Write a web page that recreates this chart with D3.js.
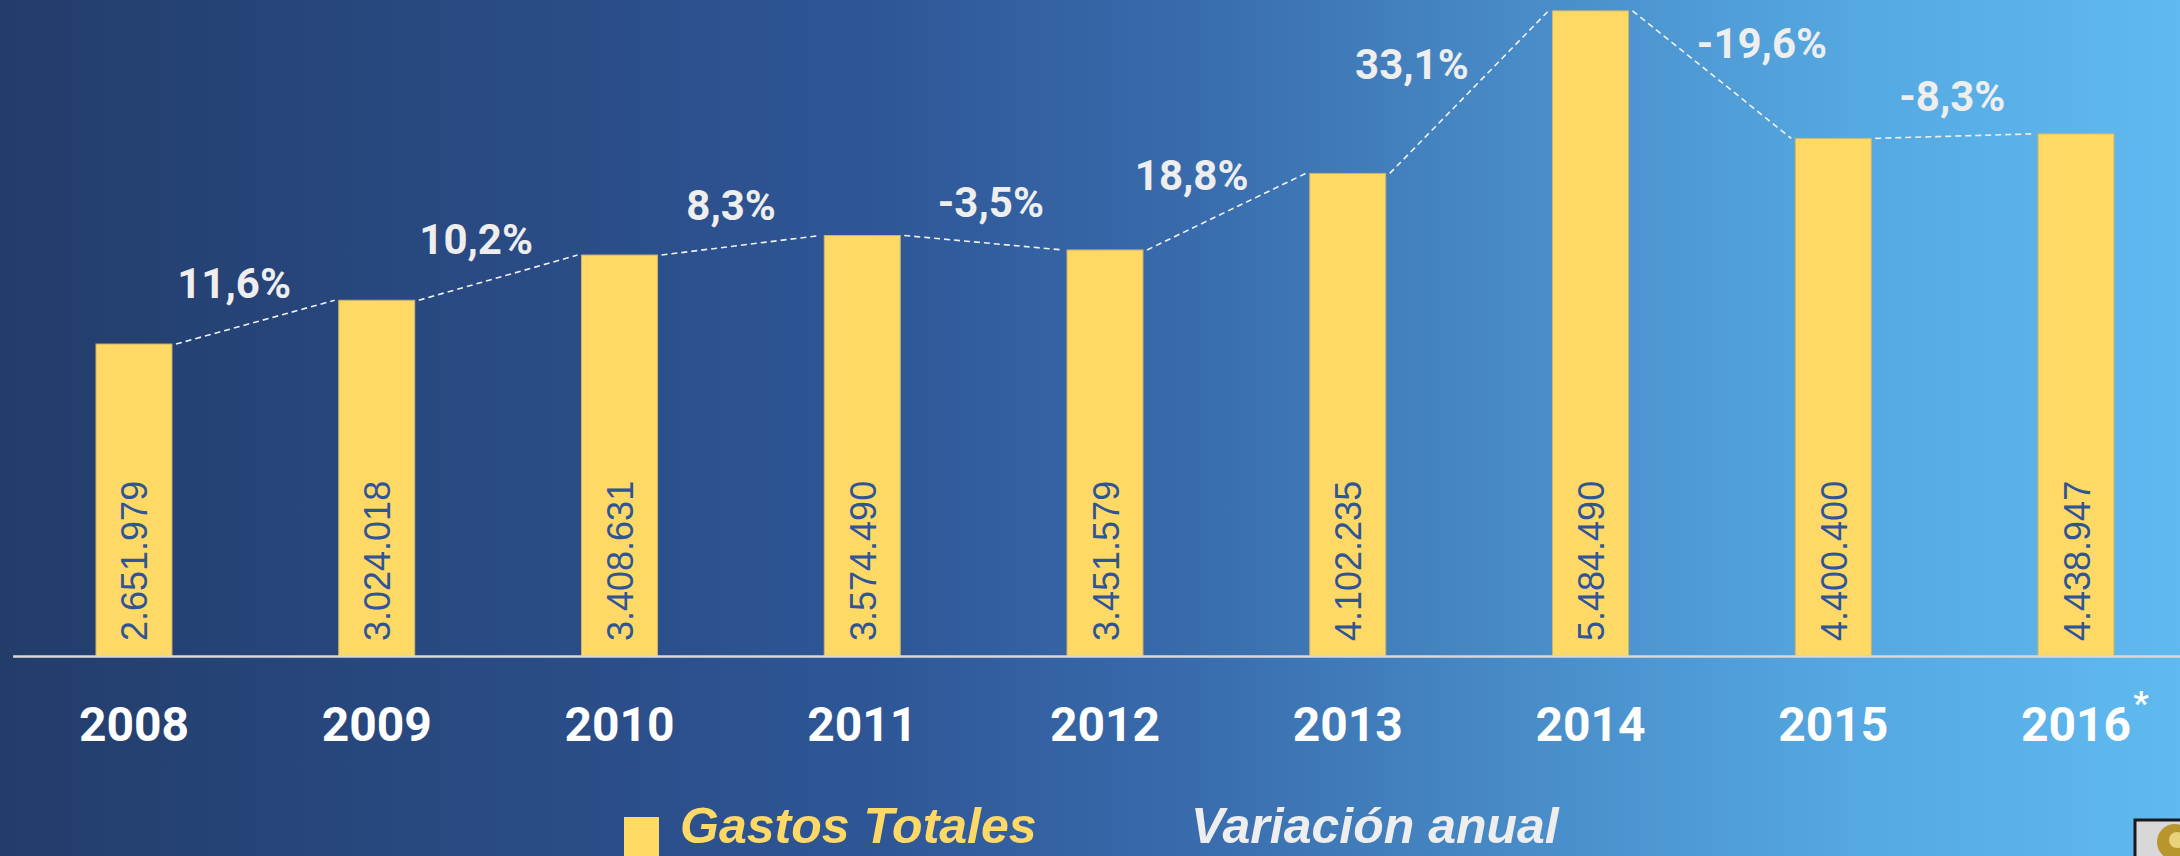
<!DOCTYPE html>
<html>
<head>
<meta charset="utf-8">
<script src="https://cdn.jsdelivr.net/npm/d3@7"></script>
<style>
  html, body { margin: 0; padding: 0; overflow: hidden; }
  svg { display: block; }
</style>
</head>
<body>
<svg id="chart" width="2180" height="856"></svg>
<script>
// Data
const years = ["2008", "2009", "2010", "2011", "2012", "2013", "2014", "2015", "2016"];
const gastosTotales = [2651979, 3024018, 3408631, 3574490, 3451579, 4102235, 5484490, 4400400, 4438947];
const variacionAnual = [11.6, 10.2, 8.3, -3.5, 18.8, 33.1, -19.6, -8.3]; // from 2009 on
const legendLabels = ["Gastos Totales", "Variación anual"];

const width = 2180, height = 856;
const svg = d3.select("#chart");

// Spanish style number formats, plain hyphen as minus
const es = d3.formatLocale({ decimal: ",", thousands: ".", grouping: [3], currency: ["", " €"], minus: "-" });
const fmtValue = es.format(",d");
const fmtPct = es.format(".1f");

// Background gradient
const defs = svg.append("defs");
const grad = defs.append("linearGradient").attr("id", "bg").attr("x1", 0).attr("x2", 1).attr("y1", 0).attr("y2", 0);
[["0%", "#233d6b"], ["22%", "#294a83"], ["40%", "#2e5696"], ["55%", "#396cad"], ["70%", "#488cc8"], ["85%", "#55a8e1"], ["100%", "#5fbaf0"]]
  .forEach(s => grad.append("stop").attr("offset", s[0]).attr("stop-color", s[1]));
svg.append("rect").attr("width", width).attr("height", height).attr("fill", "url(#bg)");

// Scales
const x = d3.scaleBand()
  .domain(years)
  .range([12.6, 2197.4])
  .paddingInner(0.687)
  .paddingOuter(0.3435);

const y = d3.scaleLinear()
  .domain([0, 5500000])
  .range([656, 9]);

// Bars
svg.append("g")
  .selectAll("rect")
  .data(years)
  .join("rect")
  .attr("x", d => x(d))
  .attr("y", (d, i) => y(gastosTotales[i]))
  .attr("width", x.bandwidth())
  .attr("height", (d, i) => y(0) - y(gastosTotales[i]))
  .attr("fill", "#ffd966")
  .attr("stroke", "#cdb36e")
  .attr("stroke-width", 1);

// Values inside the bars
svg.append("g")
  .selectAll("text")
  .data(years)
  .join("text")
  .attr("transform", d => `translate(${x(d) + x.bandwidth() / 2 + 1},${y(0) - 15}) rotate(-90)`)
  .attr("dominant-baseline", "central")
  .attr("font-family", "'Liberation Sans', Arial, sans-serif")
  .attr("font-size", 36)
  .attr("fill", "#2f5597")
  .text((d, i) => fmtValue(gastosTotales[i]));

// Axis at the bottom, its domain line is the base line
const xAxis = d3.axisBottom(x).tickSize(0).tickPadding(51);
const axisG = svg.append("g")
  .attr("transform", `translate(0,${y(0)})`)
  .call(xAxis);
axisG.select(".domain").attr("stroke", "#d9d9d9").attr("stroke-width", 2.5);
axisG.selectAll(".tick text")
  .attr("font-family", "Roboto, 'Open Sans', sans-serif")
  .attr("font-weight", "bold")
  .attr("font-size", 48)
  .attr("fill", "#ffffff");

// Asterisk after the last year
const lastTick = axisG.selectAll(".tick text").filter(d => d === "2016");
const lastLen = lastTick.node().getComputedTextLength();
axisG.append("text")
  .attr("x", x("2016") + x.bandwidth() / 2 + lastLen / 2 + 10)
  .attr("y", 51 + 34 - 26)
  .attr("text-anchor", "middle")
  .attr("font-family", "Roboto, sans-serif")
  .attr("font-weight", "bold")
  .attr("font-size", 34)
  .attr("fill", "#ffffff")
  .text("*");

// Dashed connectors and yearly variation
const segments = variacionAnual.map((v, i) => {
  const a = years[i], b = years[i + 1];
  const x1 = x(a) + x.bandwidth() + 4, y1 = y(gastosTotales[i]);
  const x2 = x(b) - 4, y2 = y(gastosTotales[i + 1]);
  return { v, x1, y1, x2, y2 };
});

svg.append("g")
  .selectAll("line")
  .data(segments)
  .join("line")
  .attr("x1", d => d.x1).attr("y1", d => d.y1)
  .attr("x2", d => d.x2).attr("y2", d => d.y2)
  .attr("stroke", "#f2f2f2")
  .attr("stroke-width", 1.6)
  .attr("stroke-dasharray", "6,4");

svg.append("g")
  .selectAll("text")
  .data(segments)
  .join("text")
  .attr("x", d => {
    const dx = d.x2 - d.x1, dy = d.y2 - d.y1, len = Math.hypot(dx, dy);
    return (d.x1 + d.x2) / 2 + 2 * 40 * dy / len;
  })
  .attr("y", d => {
    const dx = d.x2 - d.x1, dy = d.y2 - d.y1, len = Math.hypot(dx, dy);
    return (d.y1 + d.y2) / 2 - 40 * dx / len;
  })
  .attr("text-anchor", "middle")
  .attr("dominant-baseline", "central")
  .attr("font-family", "Roboto, sans-serif")
  .attr("font-weight", "bold")
  .attr("font-size", 42)
  .attr("fill", "#eeeeee")
  .text(d => fmtPct(d.v) + "%");

// Legend
const legend = svg.append("g");
legend.append("rect")
  .attr("x", 624).attr("y", 817)
  .attr("width", 35).attr("height", 40)
  .attr("fill", "#ffd966");
legend.append("text")
  .attr("x", 680).attr("y", 843)
  .attr("font-family", "'Liberation Sans', Arial, sans-serif")
  .attr("font-weight", "bold")
  .attr("font-style", "italic")
  .attr("font-size", 50)
  .attr("fill", "#ffd966")
  .text(legendLabels[0]);
legend.append("text")
  .attr("x", 1191).attr("y", 843)
  .attr("font-family", "'Liberation Sans', Arial, sans-serif")
  .attr("font-weight", "bold")
  .attr("font-style", "italic")
  .attr("font-size", 50)
  .attr("fill", "#eeeeee")
  .text(legendLabels[1]);

// Small emblem in the corner
const logo = svg.append("g").attr("transform", "translate(2135,820)");
logo.append("rect").attr("width", 50).attr("height", 40).attr("fill", "#d8d8d8").attr("stroke", "#1a1a1a").attr("stroke-width", 3);
logo.append("circle").attr("cx", 40).attr("cy", 22).attr("r", 18).attr("fill", "#b8962e");
logo.append("circle").attr("cx", 42).attr("cy", 20).attr("r", 8).attr("fill", "#e8d27a");
</script>
</body>
</html>
